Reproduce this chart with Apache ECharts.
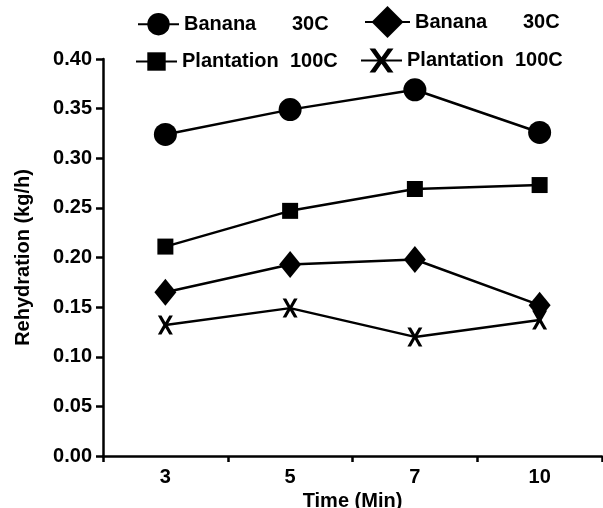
<!DOCTYPE html>
<html>
<head>
<meta charset="utf-8">
<script src="https://cdn.jsdelivr.net/npm/echarts@6/dist/echarts.min.js"></script>
<style>html,body{margin:0;padding:0;background:#fff;}#c{width:603px;height:508px;}</style>
</head>
<body>
<div id="c"></div>
<script>
var categories = ['3', '5', '7', '10'];
var bananaCircle = [0.324, 0.349, 0.369, 0.326];
var plantationSquare = [0.211, 0.247, 0.269, 0.273];
var bananaDiamond = [0.165, 0.193, 0.198, 0.152];
var plantationCross = [0.132, 0.149, 0.120, 0.137];
var yTicks = {min: 0, max: 0.4, interval: 0.05};

var FONT = 'Liberation Sans';
var crossPath = 'path://M0,0 L2.4,0 L5,3.6 L7.6,0 L10,0 L6.4,5 L10,10 L7.6,10 L5,6.4 L2.4,10 L0,10 L3.6,5 Z';

var names = {
  s1: ['Banana', '30C'],
  s2: ['Banana', '30C'],
  s3: ['Plantation', '100C'],
  s4: ['Plantation', '100C']
};
function fmt(n) { return '{n|' + names[n][0] + '}{u|' + names[n][1] + '}'; }
var legendText = {
  color: '#000', fontFamily: FONT, fontWeight: 'bold', fontSize: 20,
  rich: {
    n: {width: 108, fontFamily: FONT, fontWeight: 'bold', fontSize: 20, color: '#000'},
    u: {fontFamily: FONT, fontWeight: 'bold', fontSize: 20, color: '#000'}
  }
};
function mkLegend(name, left, top, iw, ih) {
  return {
    data: [name], left: left, top: top, padding: 0,
    itemWidth: iw, itemHeight: ih, selectedMode: false,
    formatter: fmt, textStyle: legendText
  };
}

var lineStyle = {color: '#000', width: 2.5};
var chart = echarts.init(document.getElementById('c'), null, {renderer: 'canvas'});
chart.setOption({
  animation: false,
  backgroundColor: '#fff',
  legend: [
    mkLegend('s1', 137, 13, 41, 28),
    mkLegend('s2', 364, 6, 45, 40),
    mkLegend('s3', 135, 51.5, 41, 23),
    mkLegend('s4', 360, 48.5, 41, 30)
  ],
  grid: {left: 103, right: 1, top: 59, bottom: 52, containLabel: false, outerBoundsMode: 'none'},
  xAxis: {
    type: 'category', data: categories, boundaryGap: true,
    name: 'Time (Min)', nameLocation: 'middle', nameGap: 33,
    nameTextStyle: {color: '#000', fontFamily: FONT, fontWeight: 'bold', fontSize: 20},
    axisLine: {lineStyle: {color: '#000', width: 2.5}},
    axisTick: {show: true, length: 6, alignWithLabel: false, lineStyle: {color: '#000', width: 2.5}},
    axisLabel: {color: '#000', fontFamily: FONT, fontWeight: 'bold', fontSize: 20, margin: 11},
    splitLine: {show: false}
  },
  yAxis: {
    type: 'value', min: yTicks.min, max: yTicks.max, interval: yTicks.interval,
    name: 'Rehydration (kg/h)', nameLocation: 'middle', nameGap: 70,
    nameTextStyle: {color: '#000', fontFamily: FONT, fontWeight: 'bold', fontSize: 20},
    axisLine: {show: true, lineStyle: {color: '#000', width: 2.5}},
    axisTick: {show: true, length: 7, lineStyle: {color: '#000', width: 2.5}},
    axisLabel: {color: '#000', fontFamily: FONT, fontWeight: 'bold', fontSize: 20, margin: 11,
      formatter: function (v) { return v.toFixed(2); }},
    splitLine: {show: false}
  },
  series: [
    {name: 's1', type: 'line', data: bananaCircle, symbol: 'circle', symbolSize: 23,
      lineStyle: lineStyle, itemStyle: {color: '#000'}},
    {name: 's2', type: 'line', data: bananaDiamond, symbol: 'diamond', symbolSize: [22, 27],
      lineStyle: lineStyle, itemStyle: {color: '#000'}},
    {name: 's3', type: 'line', data: plantationSquare, symbol: 'rect', symbolSize: 16,
      lineStyle: lineStyle, itemStyle: {color: '#000'}},
    {name: 's4', type: 'line', data: plantationCross, symbol: crossPath, symbolSize: [15, 19],
      lineStyle: lineStyle, itemStyle: {color: '#000'}}
  ]
});
</script>
</body>
</html>
